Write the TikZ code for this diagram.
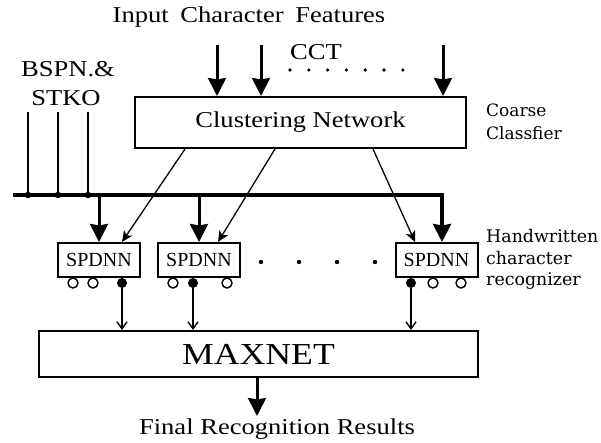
\documentclass[tikz,border=0pt]{standalone}
\usepackage{fontspec}
\setmainfont{Liberation Serif}
\newfontfamily\widefont{Liberation Serif}[FakeStretch=1.17]
\newfontfamily\slabfont{DejaVu Serif}
\usetikzlibrary{arrows.meta}
\begin{document}
\begin{tikzpicture}[x=1pt,y=-1pt,
  box/.style={draw, line width=2pt, inner sep=0pt},
  lbl/.style={inner sep=0pt, anchor=base},
  big/.style={font=\widefont\fontsize{22.7}{27}\selectfont},
  small/.style={font=\slabfont\fontsize{17}{20}\selectfont},
  smallb/.style={font=\slabfont\fontsize{17.4}{20}\selectfont},
  bigarrow/.style={line width=3pt, -{Stealth[length=18pt,width=18pt,inset=1.5pt]}},
  feed/.style={line width=2pt},
  thinarrow/.style={line width=1.3pt, -{Stealth[length=11pt,width=10pt,inset=3pt]}},
  downarrow/.style={line width=1.4pt, -{Straight Barb[length=7pt,width=10pt]}},
  odot/.style={circle, draw, line width=1.4pt, minimum size=10pt, inner sep=0pt},
  fdot/.style={circle, fill, minimum size=10pt, inner sep=0pt},
  jdot/.style={circle, fill, minimum size=6.5pt, inner sep=0pt},
]
\useasboundingbox (0,0) rectangle (601,443);

% boxes
\node[box, big, minimum width=331pt, minimum height=51pt] (cn) at (300.5,122.5) {Clustering Network};
\node[box, font=\fontsize{20}{24}\selectfont, minimum width=82pt, minimum height=34pt] (s1) at (99,260) {SPDNN};
\node[box, font=\fontsize{20}{24}\selectfont, minimum width=82pt, minimum height=34pt] (s2) at (199,260) {SPDNN};
\node[box, font=\fontsize{20}{24}\selectfont, minimum width=82pt, minimum height=34pt] (s3) at (436.5,260) {SPDNN};
\node[box, font=\widefont\fontsize{30.5}{36}\selectfont, minimum width=439pt, minimum height=46pt] (mx) at (258.5,354) {MAXNET};

% labels
\node[lbl, big] (title) at (249,23) {Input\hspace{5pt} Character\hspace{5pt} Features};
\node[lbl, big] (cct) at (316,60) {CCT};
\node[lbl, big] (bspn) at (68,77) {BSPN.\&};
\node[lbl, big] (stko) at (66,106) {STKO};
\node[lbl, small, anchor=base west] (coarse) at (486,117) {Coarse};
\node[lbl, small, anchor=base west] (classf) at (486,140) {Classfier};
\node[lbl, smallb, anchor=base west] (hw) at (486,243) {Handwritten};
\node[lbl, smallb, anchor=base west] (chr) at (486,264) {character};
\node[lbl, smallb, anchor=base west] (rec) at (486,285) {recognizer};
\node[lbl, big] (final) at (277,434) {Final Recognition Results};

% input arrows
\foreach \x [count=\i] in {217,261,443} {
  \coordinate (in\i) at (\x,45);
  \draw[bigarrow] (in\i) -- (in\i |- cn.north);
}
\foreach \k in {0,...,6} \fill ({290+\k*18.8},70) circle (1.8pt);

% BSPN feed lines and bus
\foreach \x [count=\i] in {28,58,88} {
  \coordinate (v\i) at (\x,112);
  \node[jdot] (j\i) at (\x,195) {};
  \draw[feed] (v\i) -- (j\i);
}
\coordinate (busL) at (13,195);
\coordinate (busR) at (442,195);
\draw[bigarrow, line width=3.5pt] (busL) -- (busR) -- (busR |- s3.north);
\draw[bigarrow] (s1.north |- busL) -- (s1.north);
\draw[bigarrow] (s2.north |- busL) -- (s2.north);

% clustering outputs
\draw[thinarrow] ([xshift=-115.5pt]cn.south) -- ([xshift=23pt]s1.north);
\draw[thinarrow] ([xshift=-25.5pt]cn.south) -- ([xshift=19pt]s2.north);
\draw[thinarrow] ([xshift=72.5pt]cn.south) -- ([xshift=-21.5pt]s3.north);

% dots between recognizers
\foreach \x in {261,299,337,375} \fill (\x,262) circle (2.2pt);

% output circles
\node[odot] (o11) at (73,283) {};
\node[odot] (o12) at (93,283) {};
\node[fdot] (f1) at (122,283) {};
\node[odot] (o21) at (173,283) {};
\node[fdot] (f2) at (193,283) {};
\node[odot] (o22) at (227,283) {};
\node[fdot] (f3) at (411,283) {};
\node[odot] (o31) at (433,283) {};
\node[odot] (o32) at (461,283) {};

\draw[downarrow] (f1) -- (f1 |- mx.north);
\draw[downarrow] (f2) -- (f2 |- mx.north);
\draw[downarrow] (f3) -- (f3 |- mx.north);

% final output
\coordinate (fin) at (257,416);
\draw[bigarrow] (mx.south -| fin) -- (fin);
\end{tikzpicture}
\end{document}
